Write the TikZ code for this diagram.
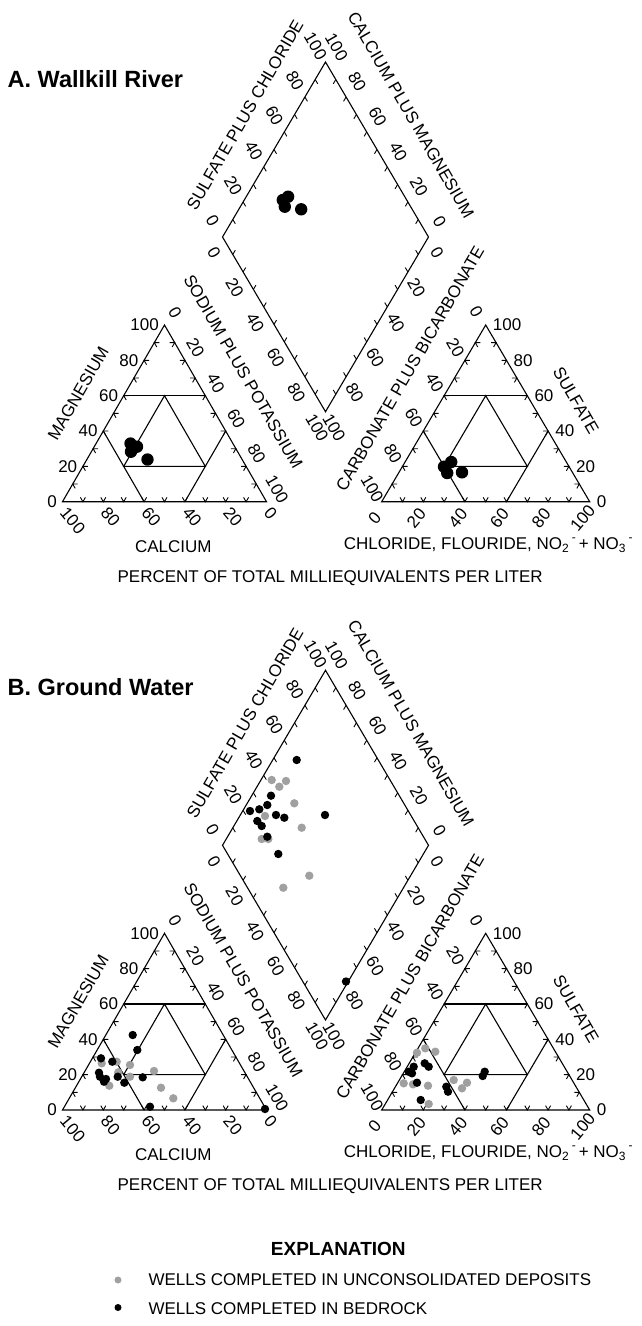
\documentclass[tikz,border=0pt]{standalone}
\usepackage{fontspec}
\setmainfont{Liberation Sans}
\usetikzlibrary{calc}
\definecolor{ptgray}{RGB}{160,160,160}
\tikzset{
  frame/.style={line width=1.1pt, line join=miter},
  tk/.style={line width=0.9pt},
  num/.style={font=\fontsize{17}{17}\selectfont, inner sep=0pt},
  ttl/.style={font=\fontsize{23.5}{24}\selectfont\bfseries, inner sep=0pt, anchor=west},
  bigdot/.style={fill=black},
  bdot/.style={fill=black},
  gdot/.style={fill=ptgray}
}
\newcommand{\subsc}[1]{\raisebox{-0.35ex}{\fontsize{12}{12}\selectfont #1}}
\newcommand{\supmin}{\raisebox{0.85ex}{\fontsize{12}{12}\selectfont -}}
\newcommand{\pipframe}{%
\coordinate (L0) at (62.5,501.7);
\coordinate (L1) at (266.5,501.7);
\coordinate (Lt) at (164.5,325);
\coordinate (R0) at (381.7,501.7);
\coordinate (R1) at (589.7,501.7);
\coordinate (Rt) at (485.7,325);
\coordinate (Dl) at (222.5,237);
\coordinate (Dr) at (428.5,237);
\coordinate (Dt) at (325.5,62);
\coordinate (Db) at (325.5,411.7);
\draw[frame] (L0) -- (L1) -- (Lt) -- cycle;
\draw[frame] (R0) -- (R1) -- (Rt) -- cycle;
\draw[frame] (Dl) -- (Dt) -- (Dr) -- (Db) -- cycle;
\foreach \pa/\pb/\pc in {L0/Lt/L1, R0/Rt/R1} {
  \draw[frame] ($0.4*(\pa)+0.6*(\pb)$) -- ($0.6*(\pb)+0.4*(\pc)$);
  \draw[frame] ($0.6*(\pa)+0.4*(\pb)$) -- ($0.6*(\pa)+0.4*(\pc)$);
  \draw[frame] ($0.4*(\pb)+0.6*(\pc)$) -- ($0.4*(\pa)+0.6*(\pc)$);
  \draw[frame] ($0.2*(\pa)+0.6*(\pb)+0.2*(\pc)$) -- ($0.6*(\pa)+0.2*(\pb)+0.2*(\pc)$)
     -- ($0.2*(\pa)+0.2*(\pb)+0.6*(\pc)$) -- cycle;
}
\foreach \i in {1,...,9} {
  \draw[tk] ($(L0)!{\i/10}!(L1)$) ++(2.5,-4.33) -- ++(-2.5,4.33) -- ++(-2.5,-4.33);
  \draw[tk] ($(R0)!{\i/10}!(R1)$) ++(2.5,-4.33) -- ++(-2.5,4.33) -- ++(-2.5,-4.33);
  \draw[tk] ($(L0)!{\i/10}!(Lt)$) ++(5,0) -- ++(-5,0) -- ++(2.5,4.33);
  \draw[tk] ($(R0)!{\i/10}!(Rt)$) ++(5,0) -- ++(-5,0) -- ++(2.5,4.33);
  \draw[tk] ($(L1)!{\i/10}!(Lt)$) ++(-5,0) -- ++(5,0) -- ++(-2.5,4.33);
  \draw[tk] ($(R1)!{\i/10}!(Rt)$) ++(-5,0) -- ++(5,0) -- ++(-2.5,4.33);
  \draw[tk] ($(Dl)!{\i/10}!(Dt)$) -- ++(2.54,4.3);
  \draw[tk] ($(Dr)!{\i/10}!(Dt)$) -- ++(-2.54,4.3);
  \draw[tk] ($(Dl)!{\i/10}!(Db)$) -- ++(2.54,-4.3);
  \draw[tk] ($(Dr)!{\i/10}!(Db)$) -- ++(-2.54,-4.3);
}
\foreach \p in {0,20,40,60,80,100} {
  \node[num,anchor=east] at ($(L0)!{\p/100}!(Lt)+(-5.5,0)$) {\p};
  \node[num,rotate=-60] at ($(Lt)!{\p/100}!(L1)+(10.5,-12.5)$) {\p};
  \node[num,rotate=-60] at ($(Rt)!{\p/100}!(R0)+(-9.5,-13)$) {\p};
  \node[num,anchor=west] at ($(R1)!{\p/100}!(Rt)+(7,0)$) {\p};
  \node[num,rotate=50] at ($(R0)!{\p/100}!(R1)+(-7,16.5)$) {\p};
  \node[num,rotate=-60] at ($(Dl)!{\p/100}!(Dt)+(-10,-16)$) {\p};
  \node[num,rotate=-60] at ($(Dr)!{\p/100}!(Dt)+(11,-15)$) {\p};
  \node[num,rotate=-60] at ($(Dl)!{\p/100}!(Db)+(-8.5,16)$) {\p};
  \node[num,rotate=-60] at ($(Dr)!{\p/100}!(Db)+(8.5,16)$) {\p};
}
\foreach \p/\f in {100/0,80/0.2,60/0.4,40/0.6,20/0.8,0/1} {
  \node[num,anchor=west,rotate=-50] at ($(L0)!\f!(L1)+(1,8)$) {\p};
}
\node[num,rotate=60] (tMg) at (78.3,393.3) {MAGNESIUM};
\node[num,rotate=-60] (tNa) at (243.3,371.7) {SODIUM PLUS POTASSIUM};
\node[num] (tCa) at (173.3,546.7) {CALCIUM};
\node[num,rotate=-60] (tSO) at (576,400.5) {SULFATE};
\node[num,rotate=60] (tCO) at (410,368.5) {CARBONATE PLUS BICARBONATE};
\node[num,anchor=west] (tCl) at (343.7,545) {CHLORIDE, FLOURIDE, NO\subsc{2}\hspace{3pt}\supmin\hspace{3pt}+ NO\subsc{3}\hspace{3pt}\supmin};
\node[num,rotate=60] (tSC) at (245,115) {SULFATE PLUS CHLORIDE};
\node[num,rotate=-60] (tCM) at (411,115) {CALCIUM PLUS MAGNESIUM};
\node[num] (tPct) at (330.2,578.3) {PERCENT OF TOTAL MILLIEQUIVALENTS PER LITER};
}
\begin{document}
\begin{tikzpicture}[x=1pt,y=-1pt]
\path[use as bounding box, fill=white] (0,0) rectangle (642,1326);
% ---------- A ----------
\pipframe
\node[ttl] (titleA) at (7.5,79) {A. Wallkill River};
\foreach \x/\y in {130.5/443.5,137/446.7,131/451.7,147.5/459.5,
                   444/466.7,451.2/462,447.2/473,462/472.3,
                   282.8/200,288.1/196.7,284.8/206.7,301.2/209.3}
  \fill[bigdot] (\x,\y) circle[radius=6.2pt];
% ---------- B ----------
\begin{scope}[yshift=-608.3pt]
\pipframe
\node[ttl] (titleB) at (7.5,79) {B. Ground Water};
\end{scope}
\foreach \x/\y in {271.7/780,286/781,279.3/786.7,294.3/803.3,265/816,301.7/827.7,261.7/839,268.3/839,309.3/875.7,283.3/887.7,
                   101.7/1063.3,116.7/1061.7,130/1065,118.3/1072.3,130/1076.7,109.3/1085.7,154/1071,161/1087.7,173.3/1098.3,
                   417/1052.7,425.3/1048.3,435.3/1051.7,403.7/1083.3,413/1084.3,428/1085.7,453.7/1080,462/1088.3,467/1082.7,428.7/1104}
  \fill[gdot] (\x,\y) circle[radius=4.2pt];
\foreach \x/\y in {296.7/760,271/795.7,267.3/805,250/811,259.3/809.3,276/815,284.3/817.7,257.3/821,261.7/826,267.3/836.7,278.3/854,325/815,346/981.5,
                   132.7/1035,137.3/1050,101/1058.3,112.3/1061.7,99/1072.7,100/1076.7,106/1079,104/1081.7,117.7/1076.7,124.3/1082.7,142.7/1077.3,150/1106.7,265/1109,
                   413.7/1066.7,412/1073.3,408.7/1071.7,424.7/1063.3,428.7/1066.7,417/1082.7,446.3/1086.7,448/1091.7,420.7/1100,484.7/1071.7,482.7/1076}
  \fill[bdot] (\x,\y) circle[radius=4.2pt];
% ---------- legend ----------
\node[font=\fontsize{19}{19}\selectfont\bfseries, inner sep=0pt] (expl) at (338.3,1249.3) {EXPLANATION};
\fill[gdot] (118,1280) circle[radius=3.5pt];
\node[num,anchor=west] (leg1) at (148.3,1280) {WELLS COMPLETED IN UNCONSOLIDATED DEPOSITS};
\fill[bdot] (118,1307.5) circle[radius=3.5pt];
\node[num,anchor=west] (leg2) at (148.3,1308.3) {WELLS COMPLETED IN BEDROCK};
\end{tikzpicture}
\end{document}
